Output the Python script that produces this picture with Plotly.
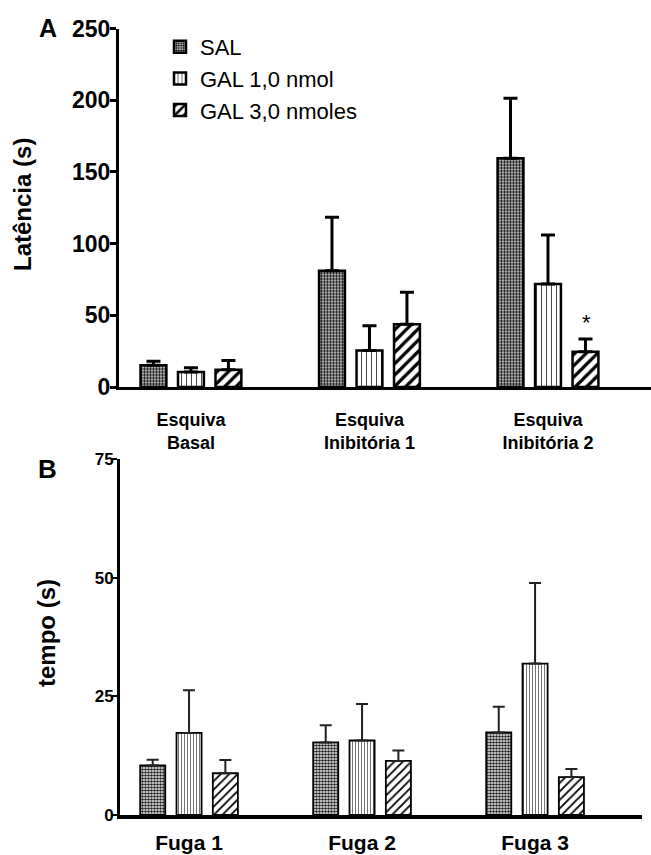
import plotly.graph_objects as go

# ---------------- data ----------------
groups_a = ["Esquiva<br>Basal", "Esquiva<br>Inibitória 1", "Esquiva<br>Inibitória 2"]
groups_b = ["Fuga 1", "Fuga 2", "Fuga 3"]
series = ["SAL", "GAL 1,0 nmol", "GAL 3,0 nmoles"]

lat_sal = [15.2, 81.1, 159.5]
lat_sal_sem = [2.8, 37.3, 41.8]
lat_gal1 = [10.5, 25.4, 71.8]
lat_gal1_sem = [3.0, 17.3, 34.2]
lat_gal3 = [12.1, 43.8, 24.6]
lat_gal3_sem = [6.3, 22.2, 8.9]

tempo_sal = [10.45, 15.3, 17.4]
tempo_sal_sem = [1.2, 3.6, 5.4]
tempo_gal1 = [17.3, 15.7, 31.9]
tempo_gal1_sem = [9.0, 7.7, 17.0]
tempo_gal3 = [8.8, 11.4, 8.0]
tempo_gal3_sem = [2.8, 2.2, 1.7]

yticks_a = [0, 50, 100, 150, 200, 250]
yticks_b = [0, 25, 50, 75]

FONT = "Liberation Sans, Arial, sans-serif"

pat_a = [
    dict(shape=".", size=3, solidity=0.6, fgcolor="black", bgcolor="white", fgopacity=1),
    dict(shape="|", size=5, solidity=0.18, fgcolor="#333", bgcolor="white", fgopacity=1),
    dict(shape="/", size=8, solidity=0.4, fgcolor="black", bgcolor="white", fgopacity=1),
]
pat_b = [
    dict(shape=".", size=3, solidity=0.6, fgcolor="#222", bgcolor="white", fgopacity=1),
    dict(shape="|", size=3, solidity=0.25, fgcolor="#444", bgcolor="white", fgopacity=1),
    dict(shape="/", size=6, solidity=0.3, fgcolor="black", bgcolor="white", fgopacity=1),
]

fig = go.Figure()

vals_a = [(lat_sal, lat_sal_sem), (lat_gal1, lat_gal1_sem), (lat_gal3, lat_gal3_sem)]
vals_b = [(tempo_sal, tempo_sal_sem), (tempo_gal1, tempo_gal1_sem), (tempo_gal3, tempo_gal3_sem)]

for i, name in enumerate(series):
    v, e = vals_a[i]
    fig.add_trace(go.Bar(
        x=groups_a, y=v, name=name, xaxis="x", yaxis="y",
        marker=dict(color="white", line=dict(color="black", width=2.5), pattern=pat_a[i]),
        error_y=dict(type="data", symmetric=False, array=e, arrayminus=[0] * len(e),
                     color="black", thickness=3, width=7),
        showlegend=True,
    ))
for i, name in enumerate(series):
    v, e = vals_b[i]
    fig.add_trace(go.Bar(
        x=groups_b, y=v, name=name, xaxis="x2", yaxis="y2",
        marker=dict(color="white", line=dict(color="black", width=1.8), pattern=pat_b[i]),
        error_y=dict(type="data", symmetric=False, array=e, arrayminus=[0] * len(e),
                     color="#222", thickness=2, width=6),
        showlegend=False,
    ))

H, W = 855, 651

fig.update_layout(
    width=W, height=H,
    margin=dict(l=0, r=0, t=0, b=0, autoexpand=False),
    paper_bgcolor="white", plot_bgcolor="white",
    barmode="group",
    bargap=0.37, bargroupgap=0.31,
    font=dict(family=FONT, color="black"),
    xaxis=dict(domain=[119 / W, 1.0], anchor="y", range=[-0.403, 2.577], automargin=False,
               showline=True, linewidth=3, linecolor="black", ticks="",
               showgrid=False, zeroline=False,
               tickfont=dict(family=FONT, size=18, color="black", weight="bold"),
               ticklabelstandoff=14),
    yaxis=dict(domain=[(H - 387) / H, (H - 28.5) / H], anchor="x", range=[0, 250], automargin=False,
               tickvals=yticks_a, showline=True, linewidth=3, linecolor="black",
               ticks="outside", ticklen=6, tickwidth=3, tickcolor="black",
               showgrid=False, zeroline=False, ticklabelstandoff=-5,
               tickfont=dict(family=FONT, size=23, color="black", weight="bold")),
    xaxis2=dict(domain=[120 / W, 642 / W], anchor="y2", range=[-0.399, 2.618], automargin=False,
                showline=True, linewidth=3.5, linecolor="black", ticks="",
                showgrid=False, zeroline=False,
                tickfont=dict(family=FONT, size=21, color="black", weight="bold"),
                ticklabelstandoff=6),
    yaxis2=dict(domain=[(H - 815) / H, (H - 459) / H], anchor="x2", range=[0, 75], automargin=False,
                tickvals=yticks_b, showline=True, linewidth=3, linecolor="black",
                ticks="outside", ticklen=5, tickwidth=2, tickcolor="black",
                showgrid=False, zeroline=False, ticklabelstandoff=-5,
                tickfont=dict(family=FONT, size=17, color="black", weight="bold")),
    legend=dict(x=160 / W, y=1 - 26 / H, xanchor="left", yanchor="top",
                font=dict(family=FONT, size=22, color="black"),
                bgcolor="rgba(0,0,0,0)", tracegroupgap=0, itemwidth=30),
)

ann_common = dict(xref="paper", yref="paper", showarrow=False, xanchor="center", yanchor="middle")
fig.add_annotation(x=48 / W, y=1 - 28.5 / H, text="<b>A</b>",
                   font=dict(family=FONT, size=25, color="black"), **ann_common)
fig.add_annotation(x=47.5 / W, y=1 - 469 / H, text="<b>B</b>",
                   font=dict(family=FONT, size=26, color="black"), **ann_common)
fig.add_annotation(x=23 / W, y=1 - 205 / H, text="<b>Latência (s)</b>", textangle=-90,
                   font=dict(family=FONT, size=24, color="black"), **ann_common)
fig.add_annotation(x=46 / W, y=1 - 633 / H, text="<b>tempo (s)</b>", textangle=-90,
                   font=dict(family=FONT, size=24, color="black"), **ann_common)
# significance marker above GAL 3,0 bar of third group
fig.add_annotation(x=2, y=lat_gal3[2] + lat_gal3_sem[2], xref="x", yref="y", xshift=39, yshift=16,
                   text="*", showarrow=False, font=dict(family=FONT, size=22, color="black"))

fig.write_html("out.html", config={"displayModeBar": False},
               post_script="document.body.style.margin='0';document.body.style.padding='0';")
